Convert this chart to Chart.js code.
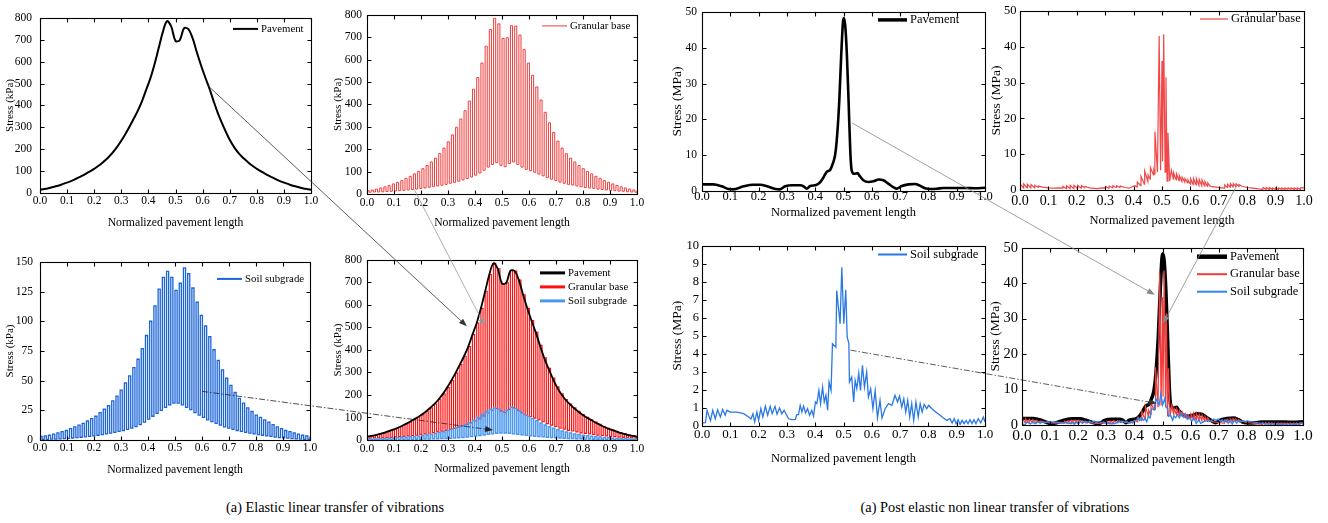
<!DOCTYPE html>
<html>
<head>
<meta charset="utf-8">
<title>Stress along normalized pavement length</title>
<script src="https://cdn.jsdelivr.net/npm/chart.js@4.4.1/dist/chart.umd.min.js"></script>
<style>
  html, body { margin: 0; padding: 0; background: #fff; }
  body { position: relative; width: 1328px; height: 523px; overflow: hidden;
         font-family: "Liberation Serif", "Tinos", "Times New Roman", "DejaVu Serif", serif; }
  .panel { position: absolute; }
  .panel canvas { display: block; }
  #links { position: absolute; left: 0; top: 0; pointer-events: none; z-index: 10; }
  .caption { position: absolute; top: 500px; font-size: 14.3px; line-height: 14px;
             white-space: nowrap; transform: translateX(-50%); color: #000; }
</style>
</head>
<body>
<div class="caption" style="left:335px">(a) Elastic linear transfer of vibrations</div>
<div class="caption" style="left:995px">(a) Post elastic non linear transfer of vibrations</div>
<canvas id="links" width="1328" height="523"></canvas>
<script>
// ---------- elastic case (kPa), sampled every 1/64 of the length ----------
const pavementElastic = [15,18,22,27,32,38,45,52,60,70,79,90,101,113,127,143,160,181,205,233,
  264,298,335,372,415,468,520,585,660,735,785,760,695,698,752,750,710,645,585,530,
  478,420,365,318,275,236,205,180,160,143,127,113,101,90,79,70,60,52,45,38,32,27,22,18,15];

// granular base: pulse crests (at i/64) and troughs (at (i+0.5)/64)
const granularPeaks = [15,18,22,27,32,38,45,52,60,70,79,90,101,113,127,143,160,181,205,233,
  264,298,335,372,415,468,520,585,660,735,785,760,695,698,752,750,710,645,585,530,
  478,420,365,318,275,236,205,180,160,143,127,113,101,90,79,70,60,52,45,38,32,27,22,18,15];
const granularTroughs = [8,9,9,10,11,12,14,15,16,18,20,22,25,27,30,33,36,39,43,48,
  52,57,63,69,76,84,94,106,120,132,140,128,122,136,143,132,120,110,104,97,
  89,81,73,66,60,53,48,43,40,36,32,29,27,25,22,20,18,16,15,13,12,10,9,8];

// soil subgrade: pulse crests and troughs
const subgradePeaks = [3,3.5,4,5,6,7,8,9.5,11,12.5,14,16,18,20,23,26,29,33,37,42,
  48,54,61,68,77,88,100,113,127,137,142,137,126,132,145,140,128,116,105,96,
  87,76,67,59,52,46,40,35,31,27,24,21,19,17,15,13,11,9.5,8,7,6,5,4,3.5,3];
const subgradeTroughs = [0.5,0.6,0.7,0.8,1,1.2,1.4,1.7,2,2.3,2.7,3.1,3.5,4,4.6,5.2,5.8,6.4,7.2,8,
  9,10,11.2,13,15,17.5,20,22.5,25,27.5,29.5,31,31,29.5,27.5,25.5,23,21,19,17,
  15.5,14,12.5,11,10,9,8,7.2,6.5,5.8,5.2,4.6,4,3.5,3,2.5,2.1,1.8,1.5,1.2,1,0.8,0.6,0.5];

// ---------- post-elastic case (MPa) ----------
const pavementNLx = [0,0.04,0.07,0.094,0.11,0.147,0.18,0.206,0.23,0.26,
  0.274,0.294,0.318,0.347,0.359,0.37,0.382,0.4,0.406,0.418,
  0.43,0.44,0.453,0.462,0.47,0.476,0.485,0.492,0.498,0.501,
  0.506,0.512,0.518,0.524,0.529,0.538,0.55,0.556,0.57,0.588,
  0.606,0.624,0.641,0.659,0.676,0.688,0.706,0.73,0.753,0.77,
  0.788,0.806,0.83,0.853,0.888,0.935,0.965,1];
const pavementNLy = [1.85,1.85,1.3,0.55,0.45,1.3,1.75,1.75,1.3,0.55,
  0.45,1.3,1.6,1.6,1.3,0.65,1.4,1.6,1.75,2.5,
  3.9,5.3,5.9,7.6,9.9,14,25,38,47,48.3,
  46.3,38,25,11,5.7,4.8,5,4.3,3,2.5,
  2.7,3.2,3,2,1.1,0.65,1.4,1.85,1.95,1.5,
  0.75,0.55,0.65,0.85,0.85,0.85,0.75,0.9];

const granularNLx = [0,0.012,0.013,0.025,0.026,0.038,0.039,0.051,0.052,0.064,
  0.065,0.08,0.1,0.12,0.14,0.15,0.151,0.163,0.164,0.176,
  0.177,0.189,0.19,0.202,0.203,0.215,0.216,0.228,0.229,0.245,
  0.27,0.29,0.3,0.301,0.313,0.314,0.326,0.327,0.339,0.34,
  0.352,0.353,0.37,0.385,0.395,0.405,0.412,0.413,0.425,0.426,
  0.438,0.439,0.45,0.451,0.458,0.459,0.47,0.471,0.474,0.475,
  0.484,0.49,0.495,0.5,0.502,0.506,0.511,0.514,0.518,0.521,
  0.527,0.533,0.54,0.541,0.55,0.551,0.56,0.561,0.57,0.571,
  0.58,0.581,0.59,0.591,0.6,0.601,0.61,0.611,0.62,0.621,
  0.63,0.631,0.64,0.641,0.65,0.651,0.66,0.661,0.67,0.69,
  0.71,0.72,0.721,0.73,0.731,0.74,0.741,0.75,0.751,0.76,
  0.761,0.77,0.771,0.78,0.8,0.82,0.84,0.855,0.856,0.866,
  0.867,0.877,0.878,0.888,0.889,0.899,0.9,0.91,0.911,0.921,
  0.922,0.932,0.933,0.943,0.944,0.954,0.955,0.965,0.966,0.976,
  0.977,0.987,0.988,1];
const granularNLy = [1.8,0.6,1.7,0.6,1.6,0.6,1.5,0.6,1.3,0.7,
  1.1,0.8,0.6,0.5,0.6,0.5,1.0,0.4,1.2,0.4,
  1.3,0.4,1.3,0.5,1.3,0.5,1.2,0.6,1.0,0.6,
  0.4,0.6,0.5,1.0,0.5,1.1,0.6,1.2,0.7,1.2,
  0.7,1.1,0.7,0.5,0.9,1.2,0.9,2.2,1.2,3.8,
  1.6,5.3,2.4,4.2,3.0,6.3,4.2,5.5,4.5,16.3,
  5.0,43.0,5.5,36.0,8.0,43.5,5.0,31.5,2.5,16.0,
  2.5,5.5,3.0,4.8,2.8,4.5,2.6,4.0,2.4,3.6,
  2.2,3.2,2.0,2.8,1.6,3.1,1.5,3.2,1.4,3.2,
  1.3,3.0,1.2,2.8,1.1,2.4,1.0,2.0,1.0,0.8,
  0.6,0.5,1.4,0.7,1.6,0.8,1.8,0.9,1.8,1.0,
  1.7,1.0,1.5,1.1,0.7,0.5,0.3,0.2,0.7,0.2,
  0.7,0.2,0.7,0.2,0.6,0.2,0.6,0.2,0.6,0.2,
  0.6,0.2,0.6,0.2,0.6,0.2,0.6,0.2,0.6,0.2,
  0.6,0.2,0.6,0.6];

const subgradeNLx = [0,0.012,0.018,0.03,0.038,0.047,0.055,0.065,0.073,0.082,
  0.088,0.1,0.124,0.147,0.165,0.173,0.18,0.186,0.194,0.2,
  0.208,0.215,0.224,0.232,0.241,0.248,0.258,0.265,0.274,0.282,
  0.29,0.306,0.318,0.33,0.335,0.341,0.347,0.353,0.359,0.366,
  0.373,0.38,0.388,0.394,0.401,0.406,0.413,0.419,0.426,0.432,
  0.438,0.444,0.449,0.456,0.461,0.473,0.476,0.488,0.494,0.501,
  0.508,0.513,0.519,0.521,0.529,0.536,0.541,0.547,0.554,0.56,
  0.567,0.574,0.582,0.588,0.596,0.604,0.612,0.62,0.629,0.636,
  0.647,0.659,0.671,0.682,0.691,0.698,0.706,0.713,0.72,0.727,
  0.734,0.741,0.748,0.756,0.764,0.771,0.778,0.785,0.794,0.801,
  0.818,0.841,0.865,0.876,0.884,0.891,0.898,0.905,0.912,0.919,
  0.926,0.933,0.94,0.947,0.954,0.961,0.968,0.976,0.985,0.994,
  1];
const subgradeNLy = [0.17,0.18,0.87,0.3,0.87,0.4,0.9,0.5,0.92,0.6,
  0.87,0.77,0.77,0.68,0.5,0.39,0.68,0.22,0.77,0.31,
  0.96,0.5,1.1,0.6,1.09,0.68,1.09,0.65,1.0,0.68,
  0.87,0.4,0.35,0.37,0.63,0.63,1.14,0.77,1.1,0.72,
  0.96,0.59,0.87,0.55,1.33,1.24,1.97,1.24,2.16,1.33,
  1.7,0.87,2.43,1.97,4.56,4.37,7.5,5.66,8.8,5.66,
  7.55,4.93,4.56,2.43,2.71,1.33,2.53,2.07,2.93,1.97,
  3.36,2.16,2.99,1.6,2.07,0.96,1.97,0.46,1.42,0.44,
  0.96,1.24,1.14,1.7,1.33,1.66,1.05,1.51,0.77,1.42,
  0.5,1.24,0.31,1.33,0.5,1.24,0.77,1.2,0.96,1.14,
  0.87,0.59,0.31,0.41,0.17,0.41,0.13,0.35,0.09,0.31,
  0.13,0.31,0.13,0.35,0.13,0.35,0.13,0.41,0.17,0.5,
  0.22];

// guide lines between panels: [panel, x, stress] at each end
const connectors = [
  { from: ['p1', 0.62, 490],  to: ['p4', 0.37, 505],   dash: false, color: '#333' },
  { from: ['p2', 0.175, 20],  to: ['p4', 0.437, 505],  dash: false, color: '#999' },
  { from: ['p3', 0.6, 41],    to: ['p4', 0.467, 44],   dash: true,  color: '#222' },
  { from: ['p5', 0.53, 19],   to: ['p8', 0.473, 36.7], dash: false, color: '#888' },
  { from: ['p6', 0.765, 1.5], to: ['p8', 0.502, 28.6], dash: false, color: '#888' },
  { from: ['p7', 0.525, 4.2], to: ['p8', 0.48, 6.1],   dash: true,  color: '#333' }
];

// ---------- helpers building point tables ----------
function curve(values) {
  const n = values.length - 1;
  return values.map((v, i) => ({ x: i / n, y: v }));
}
function pulses(peaks, troughs) {
  const n = troughs.length, pts = [];
  for (let i = 0; i < n; i++) {
    pts.push({ x: i / n, y: peaks[i] });
    pts.push({ x: (i + 0.5) / n, y: troughs[i] });
  }
  pts.push({ x: 1, y: peaks[n] });
  return pts;
}
function pairs(xs, ys) { return xs.map((x, i) => ({ x, y: ys[i] })); }

const SERIF = '"Liberation Serif", "Tinos", "Times New Roman", "DejaVu Serif", serif';
Chart.defaults.font.family = SERIF;
Chart.defaults.color = '#000';

// plot frame with inward ticks on all four sides
const framePlugin = {
  id: 'frame',
  afterDatasetsDraw(chart) {
    const { ctx, chartArea: a, scales } = chart;
    const l = Math.round(a.left) + 0.5, r = Math.round(a.right) + 0.5;
    const t = Math.round(a.top) + 0.5, b = Math.round(a.bottom) + 0.5;
    const len = 4;
    ctx.save();
    ctx.strokeStyle = '#000';
    ctx.lineWidth = 1.1;
    ctx.strokeRect(l, t, r - l, b - t);
    ctx.beginPath();
    scales.x.ticks.forEach(tk => {
      const px = Math.round(scales.x.getPixelForValue(tk.value)) + 0.5;
      ctx.moveTo(px, b); ctx.lineTo(px, b - len);
      ctx.moveTo(px, t); ctx.lineTo(px, t + len);
    });
    scales.y.ticks.forEach(tk => {
      const py = Math.round(scales.y.getPixelForValue(tk.value)) + 0.5;
      ctx.moveTo(l, py); ctx.lineTo(l + len, py);
      ctx.moveTo(r, py); ctx.lineTo(r - len, py);
    });
    ctx.stroke();
    ctx.restore();
  }
};

// legend drawn inside the plot, top right
const insetLegend = {
  id: 'insetLegend',
  afterDraw(chart, args, o) {
    const { ctx, chartArea: a } = chart;
    ctx.save();
    ctx.font = o.size + 'px ' + SERIF;
    ctx.textBaseline = 'middle';
    ctx.textAlign = 'left';
    chart.data.datasets.forEach((ds, i) => {
      const y = a.top + o.dy + i * o.row;
      const x0 = a.right - o.dx;
      ctx.strokeStyle = ds.borderColor;
      ctx.lineWidth = ds.legendWidth || ds.borderWidth;
      ctx.beginPath(); ctx.moveTo(x0, y); ctx.lineTo(x0 + o.len, y); ctx.stroke();
      ctx.fillStyle = '#000';
      ctx.fillText(ds.label, x0 + o.len + 3, y);
    });
    ctx.restore();
  }
};

function series(label, data, color, width, extra) {
  return Object.assign({
    label, data, borderColor: color, backgroundColor: color, borderWidth: width,
    pointRadius: 0, fill: false, tension: 0
  }, extra || {});
}
const smooth = { cubicInterpolationMode: 'monotone' };
const rounded = { tension: 0.35 };
const step = { stepped: true };

const panels = {
  p1: { box: [40, 13, 311, 193], y: [0, 800, 100], yTitle: 'Stress (kPa)',
        f: { x: 11.5, y: 11.5, title: 11.7, yTitle: 11 }, xPad: 0.6, titleB: 9, yPad: 8, yTitleT: 3.4,
        legend: { dx: 78, dy: 11, len: 25, row: 14, size: 10.8 },
        datasets: [series('Pavement', curve(pavementElastic), '#000', 2, rounded)] },
  p2: { box: [367, 13, 637, 194], y: [0, 800, 100], yTitle: 'Stress (kPa)',
        f: { x: 11.5, y: 11.5, title: 11.7, yTitle: 11 }, xPad: 1.6, titleB: 10, yPad: 5, yTitleT: 4.4,
        legend: { dx: 95, dy: 11, len: 25, row: 14, size: 10.8 },
        datasets: [series('Granular base', pulses(granularPeaks, granularTroughs), '#f03c3c', 1, step)] },
  p3: { box: [40, 258, 310, 440], y: [0, 150, 25], yTitle: 'Stress (kPa)',
        f: { x: 11.5, y: 11.5, title: 11.7, yTitle: 11 }, xPad: 0.6, titleB: 9, yPad: 7, yTitleT: 3.4,
        legend: { dx: 93, dy: 17, len: 25, row: 14, size: 10.8 },
        datasets: [series('Soil subgrade', pulses(subgradePeaks, subgradeTroughs), '#1a64d8', 1.3, Object.assign({ legendWidth: 2 }, step))] },
  p4: { box: [367, 258, 637, 440], y: [0, 800, 100], yTitle: 'Stress (kPa)',
        f: { x: 11.5, y: 11.5, title: 11.7, yTitle: 11 }, xPad: 2.1, titleB: 10, yPad: 5, yTitleT: 4.4,
        legend: { dx: 97, dy: 13, len: 25, row: 14, size: 10.8 },
        datasets: [
          series('Pavement', curve(pavementElastic), '#000', 1.8, { tension: 0.35, order: 0, legendWidth: 3 }),
          series('Granular base', pulses(granularPeaks, granularTroughs), '#ff1010', 1.2, { stepped: true, order: 2, legendWidth: 3 }),
          series('Soil subgrade', pulses(subgradePeaks, subgradeTroughs), '#4a98f0', 1.5, { stepped: true, order: 1, legendWidth: 3 })
        ] },
  p5: { box: [702, 10, 985, 191], y: [0, 50, 10], yTitle: 'Stress (MPa)',
        f: { x: 12.5, y: 11.5, title: 12.5, yTitle: 13.5 }, xPad: -1.5, titleB: 16.5, yPad: 5, yTitleT: 6.9,
        legend: { dx: 107, dy: 8, len: 29, row: 17.5, size: 12.5 },
        datasets: [series('Pavement', pairs(pavementNLx, pavementNLy), '#000', 2.6, Object.assign({ legendWidth: 3.5 }, smooth))] },
  p6: { box: [1020, 10, 1304, 190], y: [0, 50, 10], yTitle: 'Stress (MPa)',
        f: { x: 14, y: 12.5, title: 12.5, yTitle: 13.5 }, xPad: 2.6, titleB: 7.5, yPad: 3.5, yTitleT: 7.9,
        legend: { dx: 104, dy: 8, len: 28, row: 17.5, size: 12.5 },
        datasets: [series('Granular base', pairs(granularNLx, granularNLy), '#f04848', 1.2)] },
  p7: { box: [702, 245, 985, 426], y: [0, 10, 1], yTitle: 'Stress (MPa)',
        f: { x: 13, y: 12.5, title: 12.5, yTitle: 13.5 }, xPad: 1.2, titleB: 5.5, yPad: 3, yTitleT: 6.9,
        legend: { dx: 107, dy: 9, len: 29, row: 17.5, size: 12.5 },
        datasets: [series('Soil subgrade', pairs(subgradeNLx, subgradeNLy), '#2a78e4', 1.3, { legendWidth: 2 })] },
  p8: { box: [1022, 245, 1303, 425], y: [0, 50, 10], yTitle: 'Stress (MPa)',
        f: { x: 15.5, y: 14.5, title: 12.5, yTitle: 13.5 }, xPad: 1.7, titleB: 3.5, yPad: 4, yTitleT: 4.9,
        legend: { dx: 106, dy: 9, len: 30, row: 17.5, size: 12.5 },
        datasets: [
          series('Pavement', pairs(pavementNLx, pavementNLy), '#000', 3.5, Object.assign({ order: 3, legendWidth: 4.5 }, smooth)),
          series('Granular base', pairs(granularNLx, granularNLy), '#f03c3c', 1.2, { order: 2, legendWidth: 2 }),
          series('Soil subgrade', pairs(subgradeNLx, subgradeNLy), '#2f86f0', 1.3, { order: 1, legendWidth: 2 })
        ] }
};

const Y_AXIS_W = 40, X_AXIS_H = 46, PAD_TOP = 10, PAD_RIGHT = 12;
const linksCanvas = document.getElementById('links');
const charts = {};

for (const [id, p] of Object.entries(panels)) {
  const [L, T, R, B] = p.box;
  const W = (R - L) + Y_AXIS_W + PAD_RIGHT;
  const H = (B - T) + PAD_TOP + X_AXIS_H;
  const wrap = document.createElement('div');
  wrap.className = 'panel';
  wrap.style.left = (L - Y_AXIS_W) + 'px';
  wrap.style.top = (T - PAD_TOP) + 'px';
  const cv = document.createElement('canvas');
  cv.width = W; cv.height = H;
  cv.style.width = W + 'px'; cv.style.height = H + 'px';
  wrap.appendChild(cv);
  document.body.insertBefore(wrap, linksCanvas);

  charts[id] = new Chart(cv, {
    type: 'line',
    data: { datasets: p.datasets },
    options: {
      responsive: false,
      maintainAspectRatio: false,
      animation: false,
      events: [],
      layout: { padding: { top: PAD_TOP, right: PAD_RIGHT, left: 0, bottom: 0 } },
      plugins: { legend: { display: false }, tooltip: { enabled: false }, insetLegend: p.legend },
      scales: {
        x: {
          type: 'linear', min: 0, max: 1,
          afterFit(s) { s.height = X_AXIS_H; },
          grid: { display: false, drawTicks: false },
          border: { display: false },
          ticks: { stepSize: 0.1, autoSkip: false, maxRotation: 0, padding: p.xPad,
                   color: '#000', font: { size: p.f.x }, callback: v => v.toFixed(1) },
          title: { display: true, text: 'Normalized pavement length', color: '#000',
                   font: { size: p.f.title }, padding: { top: 0, bottom: p.titleB } }
        },
        y: {
          type: 'linear', min: p.y[0], max: p.y[1],
          afterFit(s) { s.width = Y_AXIS_W; },
          grid: { display: false, drawTicks: false },
          border: { display: false },
          ticks: { stepSize: p.y[2], padding: p.yPad, color: '#000', font: { size: p.f.y } },
          title: { display: true, text: p.yTitle, color: '#000',
                   font: { size: p.f.yTitle }, padding: { top: p.yTitleT, bottom: 0 } }
        }
      }
    },
    plugins: [framePlugin, insetLegend]
  });
}

// guide lines with arrow heads, anchored through each panel's scales
function pagePoint(id, x, y) {
  const ch = charts[id];
  const r = ch.canvas.getBoundingClientRect();
  return [r.left + ch.scales.x.getPixelForValue(x), r.top + ch.scales.y.getPixelForValue(y)];
}
(function drawLinks() {
  const ctx = linksCanvas.getContext('2d');
  connectors.forEach(c => {
    const [x0, y0] = pagePoint(c.from[0], c.from[1], c.from[2]);
    const [x1, y1] = pagePoint(c.to[0], c.to[1], c.to[2]);
    const ang = Math.atan2(y1 - y0, x1 - x0);
    const head = 8, half = 3;
    ctx.save();
    ctx.strokeStyle = c.color;
    ctx.fillStyle = c.color;
    ctx.lineWidth = 0.8;
    ctx.setLineDash(c.dash ? [6, 2, 1.5, 2] : []);
    ctx.beginPath();
    ctx.moveTo(x0, y0);
    ctx.lineTo(x1 - head * Math.cos(ang), y1 - head * Math.sin(ang));
    ctx.stroke();
    ctx.setLineDash([]);
    ctx.beginPath();
    ctx.moveTo(x1, y1);
    ctx.lineTo(x1 - head * Math.cos(ang) + half * Math.sin(ang), y1 - head * Math.sin(ang) - half * Math.cos(ang));
    ctx.lineTo(x1 - head * Math.cos(ang) - half * Math.sin(ang), y1 - head * Math.sin(ang) + half * Math.cos(ang));
    ctx.closePath();
    ctx.fill();
    ctx.restore();
  });
})();
</script>
</body>
</html>
